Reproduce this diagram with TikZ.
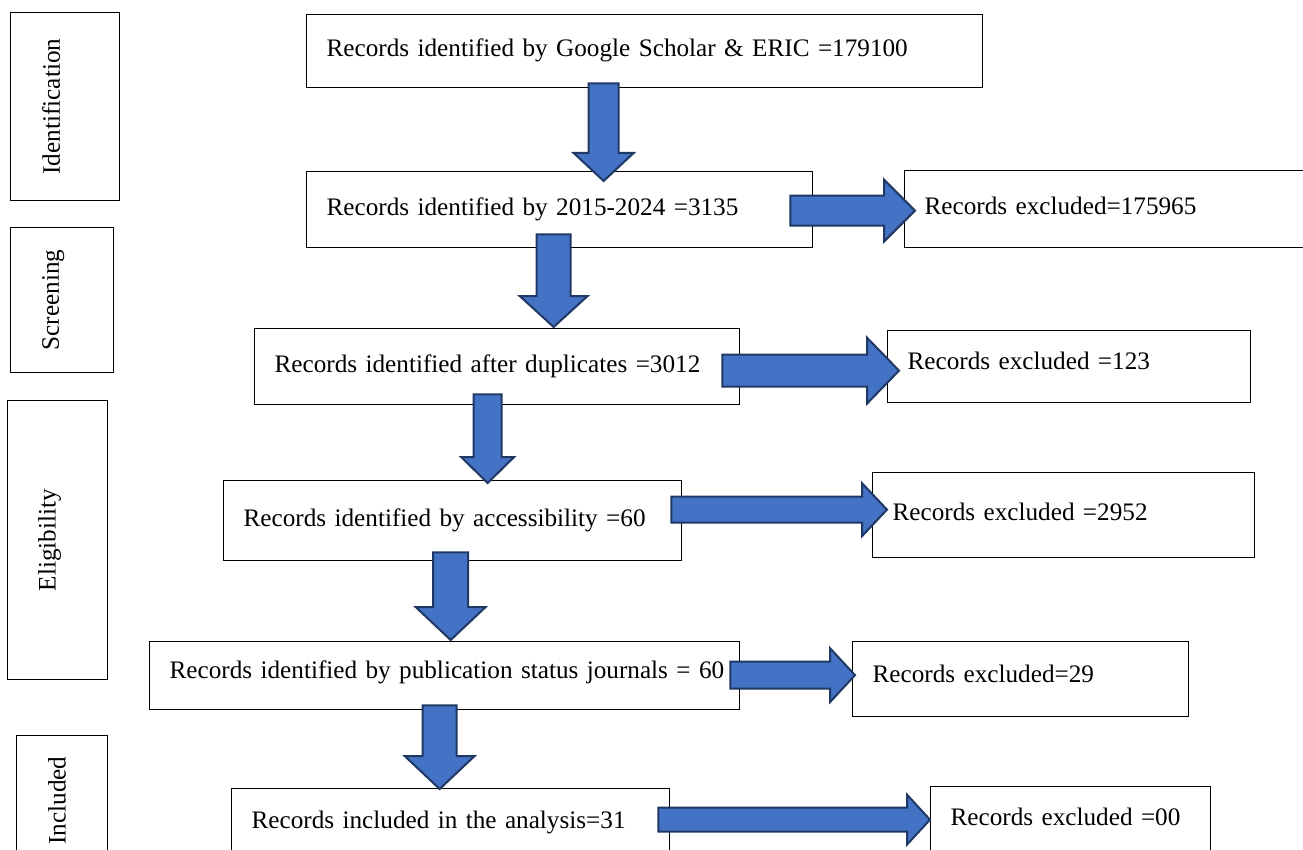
\documentclass[tikz,border=0pt]{standalone}
\usepackage{fontspec}
\setmainfont{Liberation Serif}
\usetikzlibrary{calc}
\definecolor{arrowblue}{HTML}{4472C4}
\definecolor{arrowline}{HTML}{203864}

\begin{document}
\begin{tikzpicture}[
        x=1pt, y=-1pt,
        every node/.style={font=\fontsize{25.2pt}{30pt}\selectfont},
        stage/.style 2 args={draw, line width=1.3pt, anchor=north west,
            minimum width=#1, minimum height=#2, inner sep=0pt},
        stagelabel/.style={rotate=90, anchor=north, inner sep=0pt},
        record/.style 2 args={draw, line width=1.3pt, anchor=north west,
            inner xsep=20pt, inner ysep=0pt, text width=#1, minimum height=#2,
            align=left, text height=1.1em, text depth=0pt},
        raised/.style={text height=0.6em},
        flow/.style n args={3}{draw=arrowline, fill=arrowblue, line width=2pt,
            line join=miter,
            to path={($(\tikztostart)!#1pt!90:(\tikztotarget)$)
                -- ($(\tikztotarget)!#3pt!(\tikztostart)!#1pt!90:(\tikztotarget)$)
                -- ($(\tikztotarget)!#3pt!(\tikztostart)!#2pt!90:(\tikztotarget)$)
                -- (\tikztotarget)
                -- ($(\tikztotarget)!#3pt!(\tikztostart)!#2pt!-90:(\tikztotarget)$)
                -- ($(\tikztotarget)!#3pt!(\tikztostart)!#1pt!-90:(\tikztotarget)$)
                -- ($(\tikztostart)!#1pt!-90:(\tikztotarget)$) -- cycle}}
    ]

        \useasboundingbox (0,0) rectangle (1303,850);

        % Stages
        \node[stage={109}{188}] (ident) at (10,12) {};
        \node[stagelabel] at ($(ident.west)+(32,0)$) {Identification};
        \node[stage={103}{145}] (screen) at (10,227) {};
        \node[stagelabel] at ($(screen.west)+(32,0)$) {Screening};
        \node[stage={100}{279}] (elig) at (7,400) {};
        \node[stagelabel] at ($(elig.west)+(31,0)$) {Eligibility};
        \node[stage={91}{130}] (incl) at (16,735) {};
        \node[stagelabel] at ($(incl.west)+(32,0)$) {Included};

        % Records
        \node[record={636pt}{73pt}] (found) at (306,14) {Records identified by Google Scholar \& ERIC =179100};
        \node[record={466pt}{76pt}] (years) at (306,171) {Records identified by 2015-2024 =3135};
        \node[record={390pt}{77pt}] (out1) at (904,170) {Records excluded=175965};
        \node[record={445pt}{76pt}] (dedup) at (254,328) {Records identified after duplicates =3012};
        \node[record={323pt}{72pt}, raised] (out2) at (887,330) {Records excluded =123};
        \node[record={418pt}{80pt}] (access) at (223,480) {Records identified by accessibility =60};
        \node[record={342pt}{85pt}] (out3) at (872,472) {Records excluded =2952};
        \node[record={550pt}{68pt}, raised] (journal) at (149,641) {\mbox{Records identified by publication status journals = 60}};
        \node[record={296pt}{75pt}, raised] (out4) at (852,641) {Records excluded=29};
        \node[record={398pt}{68pt}] (final) at (231,788) {Records included in the analysis=31};
        \node[record={240pt}{66pt}] (out5) at (930,786) {Records excluded =00};

        % Down arrows
        \path[flow={15}{30}{28}] ($(found.south)+(-41,-5)$) to ($(years.north)+(44,10)$);
        \path[flow={17}{34}{31}] ($(years.south)+(-6,-14)$) to ($(dedup.north)+(56.5,-1)$);
        \path[flow={14}{26.5}{26}] ($(dedup.south)+(-9.5,-11)$) to ($(access.north)+(35,3)$);
        \path[flow={17.5}{35}{33}] ($(access.south)+(-2,-9)$) to ($(journal.north)+(6,-1)$);
        \path[flow={17}{35}{33}] ($(journal.south)+(-5,-5)$) to ($(final.north)+(-11,1)$);

        % Exclusion arrows
        \path[flow={15}{31}{31}] ($(years.east)+(-23,1)$) to ($(out1.west)+(11,1.5)$);
        \path[flow={16}{33}{32}] ($(dedup.east)+(-18,4)$) to ($(out2.west)+(12,4)$);
        \path[flow={13}{26.5}{25}] ($(access.east)+(-11,-11)$) to ($(out3.west)+(15,-5.5)$);
        \path[flow={13.5}{27}{25}] ($(journal.east)+(-10,-0.5)$) to ($(out4.west)+(3,-4)$);
        \path[flow={12}{25}{23}] ($(final.east)+(-12,-3)$) to (out5.west);

    \end{tikzpicture}
\end{document}
